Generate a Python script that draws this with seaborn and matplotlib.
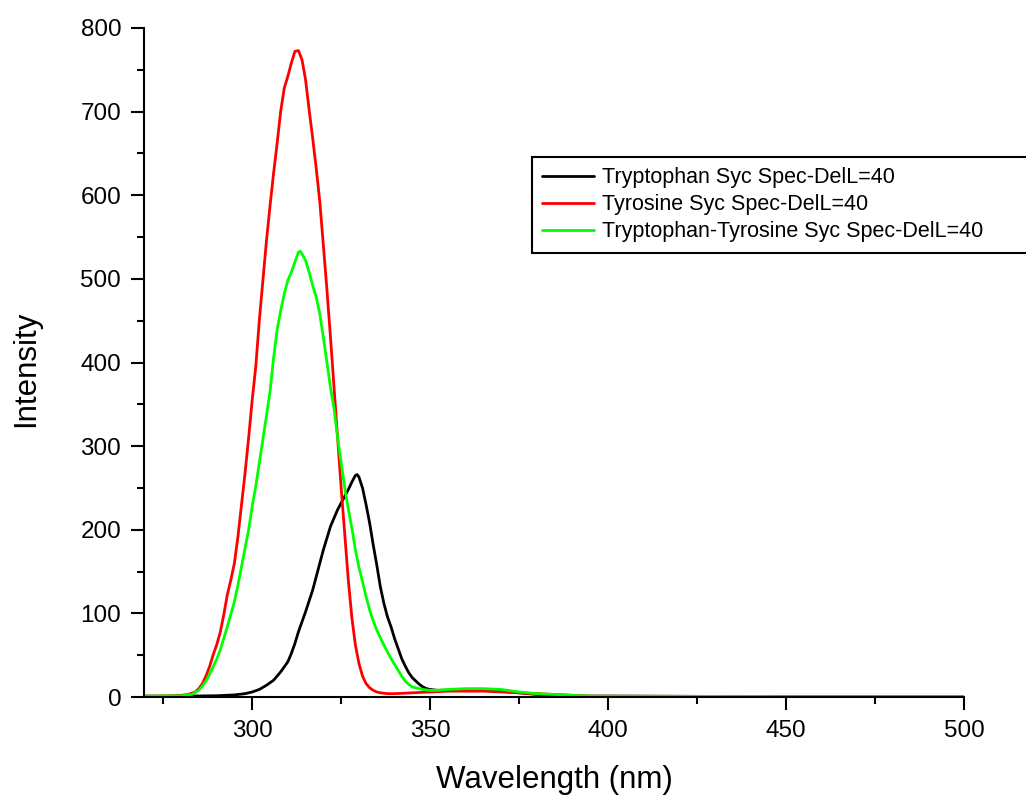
import matplotlib
matplotlib.use("Agg")
import matplotlib.pyplot as plt
from matplotlib.ticker import MultipleLocator
import pandas as pd
import seaborn as sns

# Synchronous fluorescence spectra (DelL = 40 nm)
trp_wl = [270, 280, 290, 295, 298, 300, 302, 304, 306, 307, 308, 309, 310, 311,
          312, 313, 314, 315, 316, 317, 318, 319, 320, 321, 322, 323, 324, 325,
          326, 327, 328, 329, 329.5, 330, 331, 332, 333, 334, 335, 336, 337, 338,
          339, 340, 341, 342, 343, 344, 345, 346, 347, 348, 349, 350, 352, 355,
          360, 365, 370, 375, 380, 385, 390, 400, 450, 500]
trp_int = [1, 1, 1.5, 2.5, 4, 6, 9, 14, 20, 25, 30, 36, 42, 52,
           64, 78, 90, 102, 115, 128, 144, 160, 176, 190, 204, 214, 224, 232,
           240, 248, 257, 265, 266, 263, 250, 230, 208, 182, 158, 132, 112, 96,
           84, 70, 58, 46, 37, 29, 23, 19, 15, 12, 10, 9, 8, 8,
           8, 8, 7, 5, 3, 2, 1, 1, 0.5, 0.5]

tyr_wl = [270, 275, 278, 280, 282, 284, 285, 286, 287, 288, 289, 290, 291, 292,
          293, 294, 295, 296, 297, 298, 299, 300, 301, 302, 303, 304, 305, 306,
          307, 308, 309, 310, 311, 312, 313, 314, 315, 316, 317, 318, 319, 320,
          321, 322, 323, 324, 325, 326, 327, 328, 329, 330, 331, 332, 333, 334,
          335, 336, 338, 340, 345, 350, 355, 360, 365, 370, 375, 380, 385, 390,
          395, 400, 450, 500]
tyr_int = [1, 1, 1.5, 2, 3, 6, 10, 16, 25, 36, 50, 62, 77, 98,
           122, 140, 160, 192, 230, 268, 310, 355, 395, 450, 498, 545, 587, 626,
           662, 700, 728, 742, 758, 772, 773, 762, 738, 702, 668, 632, 592, 540,
           487, 430, 370, 310, 250, 195, 140, 95, 62, 40, 25, 16, 11, 8,
           6, 5, 4, 4, 5, 6, 7, 7, 7, 6, 5, 4, 3, 2,
           1, 1, 0.5, 0.5]

mix_wl = [270, 280, 283, 285, 286, 287, 288, 289, 290, 291, 292, 293, 294, 295,
          296, 297, 298, 299, 300, 301, 302, 303, 304, 305, 306, 307, 308, 309,
          310, 311, 312, 313, 313.5, 314, 315, 316, 317, 318, 319, 320, 321, 322,
          323, 324, 325, 326, 327, 328, 329, 330, 331, 332, 333, 334, 335, 336,
          337, 338, 339, 340, 341, 342, 343, 344, 345, 346, 348, 350, 352, 355,
          360, 365, 370, 375, 380, 385, 390, 395, 400, 450, 500]
mix_int = [1, 1.5, 3, 8, 13, 19, 27, 36, 45, 56, 70, 84, 99, 114,
           134, 156, 178, 200, 228, 252, 280, 308, 336, 365, 405, 439, 462, 482,
           498, 508, 520, 532, 533, 530, 522, 508, 492, 478, 458, 430, 400, 370,
           345, 310, 280, 250, 225, 202, 176, 155, 138, 120, 104, 91, 80, 71,
           62, 54, 46, 39, 32, 25, 19, 15, 12, 11, 9, 8, 8, 9,
           10, 10, 9, 6, 4, 3, 2, 1, 1, 0.5, 0.5]

labels = ["Tryptophan Syc Spec-DelL=40",
          "Tyrosine Syc Spec-DelL=40",
          "Tryptophan-Tyrosine Syc Spec-DelL=40"]
colors = ["#000000", "#FF0000", "#00FF00"]

df = pd.concat([
    pd.DataFrame({"wl": trp_wl, "intensity": trp_int, "sample": labels[0]}),
    pd.DataFrame({"wl": tyr_wl, "intensity": tyr_int, "sample": labels[1]}),
    pd.DataFrame({"wl": mix_wl, "intensity": mix_int, "sample": labels[2]}),
], ignore_index=True)

sns.set_theme(style="ticks")
plt.rcParams["font.family"] = ["Liberation Sans", "DejaVu Sans"]
plt.rcParams["text.color"] = "black"
plt.rcParams["axes.labelcolor"] = "black"

fig = plt.figure(figsize=(10.26, 7.96), dpi=100)
ax = fig.add_axes([144 / 1026, 1 - 697 / 796, 820 / 1026, 669 / 796])

sns.lineplot(data=df, x="wl", y="intensity", hue="sample", hue_order=labels,
             palette=colors, estimator=None, sort=False, linewidth=2.0, ax=ax)

ax.set_xlim(269.6, 500)
ax.set_ylim(0, 800)
ax.xaxis.set_major_locator(MultipleLocator(50))
ax.xaxis.set_minor_locator(MultipleLocator(25))
ax.yaxis.set_major_locator(MultipleLocator(100))
ax.yaxis.set_minor_locator(MultipleLocator(50))

for side in ("top", "right"):
    ax.spines[side].set_visible(False)
for side in ("left", "bottom"):
    ax.spines[side].set_linewidth(1.5)
    ax.spines[side].set_color("black")

ax.tick_params(which="major", length=9.4, width=1.5, direction="out",
               labelsize=17.5, pad=7, colors="black", labelcolor="black")
ax.tick_params(which="minor", length=5, width=1.5, direction="out", colors="black")

ax.set_xlabel("Wavelength (nm)", fontsize=22.5, color="black")
ax.set_ylabel("Intensity", fontsize=22.5, color="black")
ax.xaxis.set_label_coords(0.5, -0.102)
ax.yaxis.set_label_coords(-0.126, 0.49)

leg = ax.legend(loc="upper left", bbox_to_anchor=(531.7 / 1026, 0.50, 0.6, 1 - 156.7 / 796 - 0.50),
                bbox_transform=fig.transFigure, mode="expand", borderaxespad=0,
                fontsize=15.5, frameon=True, fancybox=False, edgecolor="black",
                framealpha=1, borderpad=0.5, labelspacing=0.27,
                handlelength=2.4, handletextpad=0.35)
leg.get_frame().set_linewidth(1.5)
for h in leg.legend_handles:
    h.set_linewidth(2.0)
for t in leg.get_texts():
    t.set_color("black")

fig.savefig("out.png", dpi=100)
